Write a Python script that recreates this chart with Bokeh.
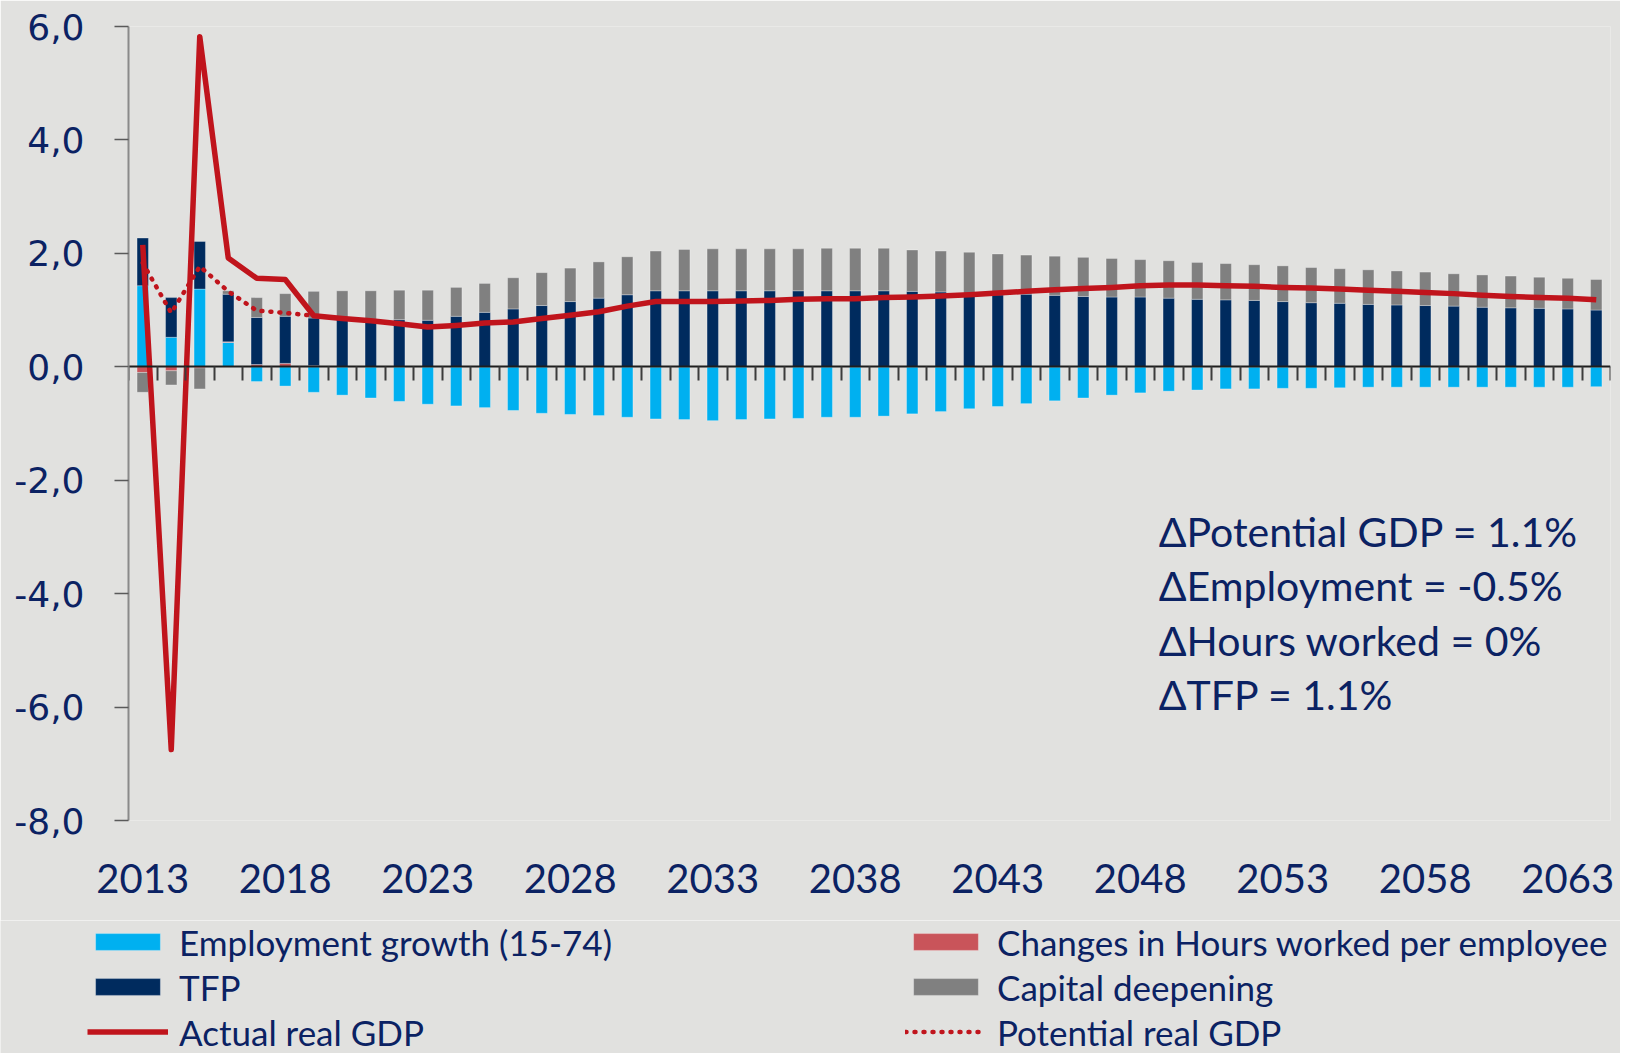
import numpy as np
from bokeh.plotting import figure
from bokeh.layouts import column
from bokeh.models import (Range1d, LinearAxis, FixedTicker, Legend, LegendItem, Label)
from bokeh.embed import file_html
from bokeh.resources import INLINE

# ---------------- data ----------------
years = list(range(2013, 2065))

employment = [1.43, 0.52, 1.37, 0.43, -0.26, -0.34, -0.45, -0.50, -0.55, -0.61,
              -0.66, -0.69, -0.72, -0.77, -0.82, -0.84, -0.86, -0.89, -0.92, -0.93,
              -0.95, -0.93, -0.92, -0.91, -0.89, -0.89, -0.87, -0.83, -0.79, -0.74,
              -0.70, -0.65, -0.60, -0.55, -0.50, -0.46, -0.43, -0.41, -0.39, -0.39,
              -0.38, -0.38, -0.37, -0.36, -0.36, -0.36, -0.36, -0.36, -0.36, -0.36,
              -0.36, -0.35]
hours = [-0.10, -0.07, -0.02, 0.01, 0.04, 0.06, 0.02, 0.0, 0.0, 0.0,
         0.0, 0.0, 0.0, 0.0, 0.0, 0.0, 0.0, 0.0, 0.0, 0.0,
         0.0, 0.0, 0.0, 0.0, 0.0, 0.0, 0.0, 0.0, 0.0, 0.0,
         0.0, 0.0, 0.0, 0.0, 0.0, 0.0, 0.0, 0.0, 0.0, 0.0,
         0.0, 0.0, 0.0, 0.0, 0.0, 0.0, 0.0, 0.0, 0.0, 0.0,
         0.0, 0.0]
tfp = [0.84, 0.70, 0.84, 0.84, 0.83, 0.83, 0.84, 0.84, 0.82, 0.83,
       0.82, 0.89, 0.96, 1.02, 1.08, 1.15, 1.21, 1.27, 1.34, 1.34,
       1.34, 1.34, 1.34, 1.34, 1.34, 1.34, 1.34, 1.33, 1.32, 1.29,
       1.27, 1.28, 1.26, 1.24, 1.23, 1.23, 1.21, 1.19, 1.18, 1.17,
       1.15, 1.13, 1.12, 1.10, 1.09, 1.08, 1.07, 1.05, 1.04, 1.03,
       1.02, 1.00]
capital = [-0.35, -0.25, -0.37, 0.06, 0.35, 0.40, 0.47, 0.50, 0.52, 0.52,
           0.53, 0.51, 0.51, 0.55, 0.58, 0.59, 0.64, 0.67, 0.70, 0.73,
           0.74, 0.74, 0.74, 0.74, 0.75, 0.75, 0.75, 0.73, 0.72, 0.73,
           0.72, 0.69, 0.69, 0.69, 0.68, 0.66, 0.66, 0.65, 0.64, 0.63,
           0.63, 0.62, 0.61, 0.61, 0.60, 0.59, 0.57, 0.57, 0.56, 0.55,
           0.54, 0.54]
actual_gdp = [2.15, -6.75, 5.82, 1.92, 1.56, 1.54, 0.90, 0.85, 0.81, 0.76,
              0.70, 0.73, 0.77, 0.79, 0.85, 0.91, 0.97, 1.07, 1.15, 1.15,
              1.15, 1.16, 1.17, 1.19, 1.20, 1.20, 1.22, 1.23, 1.25, 1.27,
              1.30, 1.33, 1.36, 1.38, 1.40, 1.43, 1.44, 1.44, 1.43, 1.42,
              1.40, 1.39, 1.37, 1.35, 1.33, 1.31, 1.29, 1.26, 1.24, 1.22,
              1.21, 1.18]
potential_years = [2013, 2014, 2015, 2016, 2017, 2018, 2019]
potential_gdp = [1.83, 0.95, 1.77, 1.33, 0.99, 0.95, 0.90]

y_ticks = [-8, -6, -4, -2, 0, 2, 4, 6]
y_tick_labels = ["-8,0", "-6,0", "-4,0", "-2,0", "0,0", "2,0", "4,0", "6,0"]
x_label_years = [2013, 2018, 2023, 2028, 2033, 2038, 2043, 2048, 2053, 2058, 2063]

series_names = ["Employment growth (15-74)", "Changes in Hours worked per employee",
                "TFP", "Capital deepening"]
line_names = ["Actual real GDP", "Potential real GDP"]
notes = ["\u0394Potential GDP = 1.1%", "\u0394Employment = -0.5%",
         "\u0394Hours worked = 0%", "\u0394TFP = 1.1%"]
note_y = [-2.9, -3.85, -4.82, -5.77]
note_x = 2048.65

# ---------------- style ----------------
BG = "#E1E1DF"
NAVY_TEXT = "#0B2263"
C_EMP = "#00B0F0"
C_HRS = "#C9545A"
C_TFP = "#002B5E"
C_CAP = "#808080"
C_LINE = "#C0141C"
TXT_FONT = "Lato"
BAR_COLORS = [C_EMP, C_HRS, C_TFP, C_CAP]
BAR_SERIES = [employment, hours, tfp, capital]

# ================= main chart =================
p = figure(frame_width=1482, frame_height=794,
           min_border_left=128, min_border_right=10, min_border_top=26,
           min_border_bottom=100,
           x_range=Range1d(years[0] - 0.5, years[-1] + 0.5),
           y_range=Range1d(y_ticks[0], y_ticks[-1]),
           output_backend="svg", toolbar_location=None)
p.frame_align = False
p.background_fill_color = BG
p.border_fill_color = BG
p.outline_line_color = None
p.grid.grid_line_color = None

# stacked bars (positives stack up, negatives stack down)
pos_base = np.zeros(len(years))
neg_base = np.zeros(len(years))
for vals, color in zip(BAR_SERIES, BAR_COLORS):
    v = np.array(vals, dtype=float)
    bottom = np.where(v >= 0, pos_base, neg_base)
    top = bottom + v
    pos_base = np.where(v >= 0, top, pos_base)
    neg_base = np.where(v < 0, top, neg_base)
    p.vbar(x=years, bottom=bottom, top=top, width=0.4,
           fill_color=color, line_color="#FFFFFF", line_alpha=0.3, line_width=1)

p.line(potential_years, potential_gdp, line_color=C_LINE, line_width=4.5,
       line_dash="1 8", line_cap="round")
p.line(years, actual_gdp, line_color=C_LINE, line_width=5.5, line_join="round")

# y axis
ya = p.yaxis[0]
ya.ticker = FixedTicker(ticks=y_ticks)
ya.major_label_overrides = dict(zip(y_ticks, y_tick_labels))
ya.major_label_text_font = "DejaVu Sans"
ya.major_label_text_font_size = "36px"
ya.major_label_text_color = NAVY_TEXT
ya.major_tick_in = 0
ya.major_tick_out = 14
ya.minor_tick_out = 0
ya.minor_tick_in = 0
ya.major_label_standoff = 30
ya.axis_line_color = "#8A8A8A"
ya.axis_line_width = 2
ya.major_tick_line_color = "#5A5A5A"
ya.major_tick_line_width = 1.5

# x axis (year labels at the bottom)
xa = p.xaxis[0]
xa.ticker = FixedTicker(ticks=x_label_years)
xa.major_label_text_font = TXT_FONT
xa.major_label_text_font_size = "40px"
xa.major_label_text_color = NAVY_TEXT
xa.major_tick_out = 0
xa.major_tick_in = 0
xa.minor_tick_out = 0
xa.minor_tick_in = 0
xa.axis_line_color = None
xa.major_label_standoff = 43

# zero axis with category-boundary ticks pointing down (minor ticks only, no labels)
boundaries = [y - 0.5 for y in years] + [years[-1] + 0.5]
zax = LinearAxis(ticker=FixedTicker(ticks=[], minor_ticks=boundaries), fixed_location=0,
                 major_tick_in=0, major_tick_out=0,
                 minor_tick_in=14, minor_tick_out=0,
                 axis_line_color="#1E1E1E", axis_line_width=2,
                 minor_tick_line_color="#3C3C3C", minor_tick_line_width=2)
p.add_layout(zax, "above")

# notes
for t, yv in zip(notes, note_y):
    p.add_layout(Label(x=note_x, y=yv, text=t, text_font=TXT_FONT, text_font_size="41px",
                       text_color=NAVY_TEXT, text_baseline="middle", text_align="left"))

# ================= legend strip =================
# the strip's ranges are far from the data, so its renderers only supply legend swatches
lg = figure(width=1620, height=133, min_border=0, x_axis_location=None,
            y_axis_location=None, x_range=Range1d(0, 1), y_range=Range1d(0, 1),
            output_backend="svg", toolbar_location=None)
lg.frame_align = False
lg.background_fill_color = BG
lg.border_fill_color = BG
lg.outline_line_color = None
lg.grid.grid_line_color = None

swatch = [lg.vbar(x=years, top=vals, width=0.4, fill_color=c, line_color="#FFFFFF",
                  line_alpha=0.3, line_width=1)
          for vals, c in zip(BAR_SERIES, BAR_COLORS)]
act_sw = lg.line(years, actual_gdp, line_color=C_LINE, line_width=5.5)
pot_sw = lg.line(potential_years, potential_gdp, line_color=C_LINE, line_width=4.5,
                 line_dash="1 8", line_cap="round")

def make_legend(items, vx):
    return Legend(items=items, location=(vx, 0), orientation="vertical",
                  glyph_width=81, glyph_height=21, label_height=43, spacing=2,
                  padding=0, margin=0, label_standoff=11,
                  label_text_font=TXT_FONT, label_text_font_size="35px",
                  label_text_color=NAVY_TEXT, label_text_baseline="middle",
                  background_fill_alpha=0, border_line_color=None)

leg1 = make_legend([LegendItem(label=series_names[0], renderers=[swatch[0]]),
                    LegendItem(label=series_names[2], renderers=[swatch[2]]),
                    LegendItem(label=line_names[0], renderers=[act_sw])], 87)
leg2 = make_legend([LegendItem(label=series_names[1], renderers=[swatch[1]]),
                    LegendItem(label=series_names[3], renderers=[swatch[3]]),
                    LegendItem(label=line_names[1], renderers=[pot_sw])], 905)
lg.add_layout(leg1)
lg.add_layout(leg2)

layout = column(p, lg, spacing=0)
open("out.html", "w").write(file_html(layout, INLINE))
